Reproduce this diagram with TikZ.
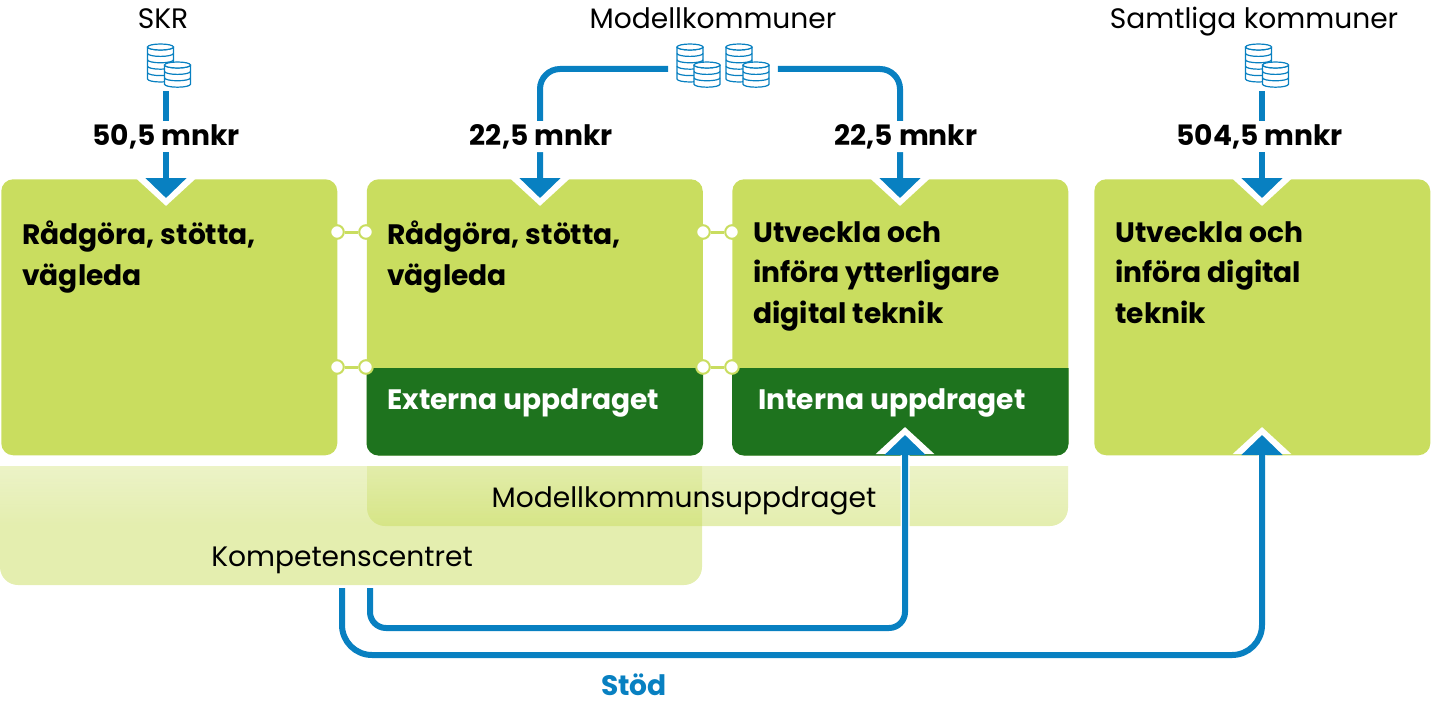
\documentclass[tikz,border=0pt]{standalone}
\usepackage{fontspec}
\setmainfont{Poppins}
\usetikzlibrary{arrows.meta,positioning,fadings}
\definecolor{flowblue}{RGB}{8,128,193}
\definecolor{boxgreen}{RGB}{201,221,95}
\definecolor{darkgreen}{RGB}{30,115,30}
\newcommand{\coins}[2]{%
  \node[icon] (#1) at (#2) {};
  \begin{scope}[shift={(#2)},coin]
    \foreach \cx/\cy/\cn in {-8.5/-22/5,8.5/-4/3} {
      \draw[fill=white] (\cx-13,\cy) -- (\cx-13,\cy+\cn*6.4) arc[start angle=180,end angle=0,x radius=13,y radius=3] -- (\cx+13,\cy);
      \foreach \ci in {1,...,\cn} \draw (\cx-13,\cy+\ci*6.4-6.4) arc[start angle=180,end angle=0,x radius=13,y radius=3];
      \draw[fill=white] (\cx,\cy) ellipse[x radius=13,y radius=3];
    }
  \end{scope}}

\begin{document}
\begin{tikzpicture}[x=0.25mm,y=-0.25mm,font=\fontsize{20}{29}\selectfont,
  box/.style={fill=boxgreen,rounded corners=3mm,minimum width=84mm,minimum height=69mm,anchor=north west,inner sep=0},
  head/.style={font=\fontsize{20}{29}\selectfont\bfseries,align=left,anchor=north west,inner sep=0},
  top/.style={inner sep=0,anchor=base},
  val/.style={font=\fontsize{20}{24}\selectfont\bfseries,text=black,fill=white,inner sep=0.8mm,yshift=-0.4mm},
  icon/.style={minimum width=15mm,minimum height=11mm,inner sep=0},
  coin/.style={draw=flowblue,line width=0.3mm},
  dot/.style={circle,draw=boxgreen,fill=white,line width=0.5mm,minimum size=3.4mm,inner sep=0},
  lnk/.style={boxgreen,line width=0.75mm},
  bar/.style={boxgreen,opacity=0.5},
  flw/.style={preaction={draw=white,line width=2.25mm,shorten >=-2mm,-{Triangle[length=6.75mm,width=14.25mm]}},
              flowblue,line width=1.5mm,-{Triangle[length=5mm,width=10mm]}}]
\useasboundingbox (0,0) rectangle (1431,701);
% ---- lower bars
\fill[bar] (0,466) -- (702,466) [rounded corners=4.5mm] -- (702,585) -- (0,585) [sharp corners] -- (0,466) -- cycle;
\fill[bar] (367,466) -- (1068,466) [rounded corners=4.5mm] -- (1068,526) -- (367,526) [sharp corners] -- (367,466) -- cycle;
\fill[white,opacity=0.3,path fading=south] (0,466) rectangle (1068,526);
\node[top] (kc) at (342,566) {Kompetenscentret};
\node[top] (mu) at (684,507) {Modellkommunsuppdraget};
% ---- boxes
\node[box] (b1) at (1,179) {};
\node[box] (b2) at (366.5,179) {};
\node[box] (b3) at (732,179) {};
\node[box] (b4) at (1094,179) {};
\fill[darkgreen] (b2.west |- 0,368) -- (b2.east |- 0,368) [rounded corners=3mm] -- (b2.south east) -- (b2.south west) [sharp corners] -- (b2.west |- 0,368) -- cycle;
\fill[darkgreen] (b3.west |- 0,368) -- (b3.east |- 0,368) [rounded corners=3mm] -- (b3.south east) -- (b3.south west) [sharp corners] -- (b3.west |- 0,368) -- cycle;
\node[head] (t1) at (22,221) {Rådgöra, stötta,\\vägleda};
\node[head] (t2) at (387,221) {Rådgöra, stötta,\\vägleda};
\node[head] (t3) at (753,221) {Utveckla och\\införa ytterligare\\digital teknik};
\node[head] (t4) at (1115,221) {Utveckla och\\införa digital\\teknik};
\node[head,text=white] (t5) at (387,388) {Externa uppdraget};
\node[head,text=white] (t6) at (758,388) {Interna uppdraget};
% ---- links between boxes
\node[dot] (d1) at (337,232) {};
\node[dot] (d2) at (366,232) {};
\node[dot] (d3) at (337,367) {};
\node[dot] (d4) at (366,367) {};
\node[dot] (d5) at (703,232) {};
\node[dot] (d6) at (732,232) {};
\node[dot] (d7) at (703,367) {};
\node[dot] (d8) at (732,367) {};
\draw[lnk] (d1) -- (d2);
\draw[lnk] (d3) -- (d4);
\draw[lnk] (d5) -- (d6);
\draw[lnk] (d7) -- (d8);
% ---- funders
\node[top] (skr) at (163,29) {SKR};
\node[top] (mk) at (713,29) {Modellkommuner};
\node[top] (sk) at (1254,29) {Samtliga kommuner};
\coins{c1}{169,69}
\coins{c2}{698.5,69}
\coins{c3}{747.5,69}
\coins{c4}{1267,69}
% ---- arrow ends
\coordinate (e1) at (166,198);
\coordinate (e2) at (540,198);
\coordinate (e3) at (900,198);
\coordinate (e4) at (1262,198);
\coordinate (e5) at (905,435);
\coordinate (e6) at (1262,435);
\coordinate (s1) at (370,588);
\coordinate (s2) at (342,588);
\coordinate (r1) at (905,628);
\coordinate (r2) at (1262,655);
% ---- flows
\draw[flw] (e1 |- c1.south) -- node[val,pos=0.41]{50,5 mnkr} (e1);
\draw[flw,rounded corners=5mm] (c2.west) -| node[val,pos=0.756,xshift=0.3mm]{22,5 mnkr} (e2);
\draw[flw,rounded corners=5mm] (c3.east) -| node[val,pos=0.756,xshift=1.5mm]{22,5 mnkr} (e3);
\draw[flw] (e4 |- c4.south) -- node[val,pos=0.41,xshift=-0.6mm]{504,5 mnkr} (e4);
\draw[flw,rounded corners=4mm] (s1) |- (r1) -- (e5);
\draw[flw,rounded corners=7.5mm] (s2) |- (r2) -- (e6);
\node[top,font=\fontsize{20}{24}\selectfont\bfseries,text=flowblue] (st) at (634,695) {Stöd};
\end{tikzpicture}
\end{document}
